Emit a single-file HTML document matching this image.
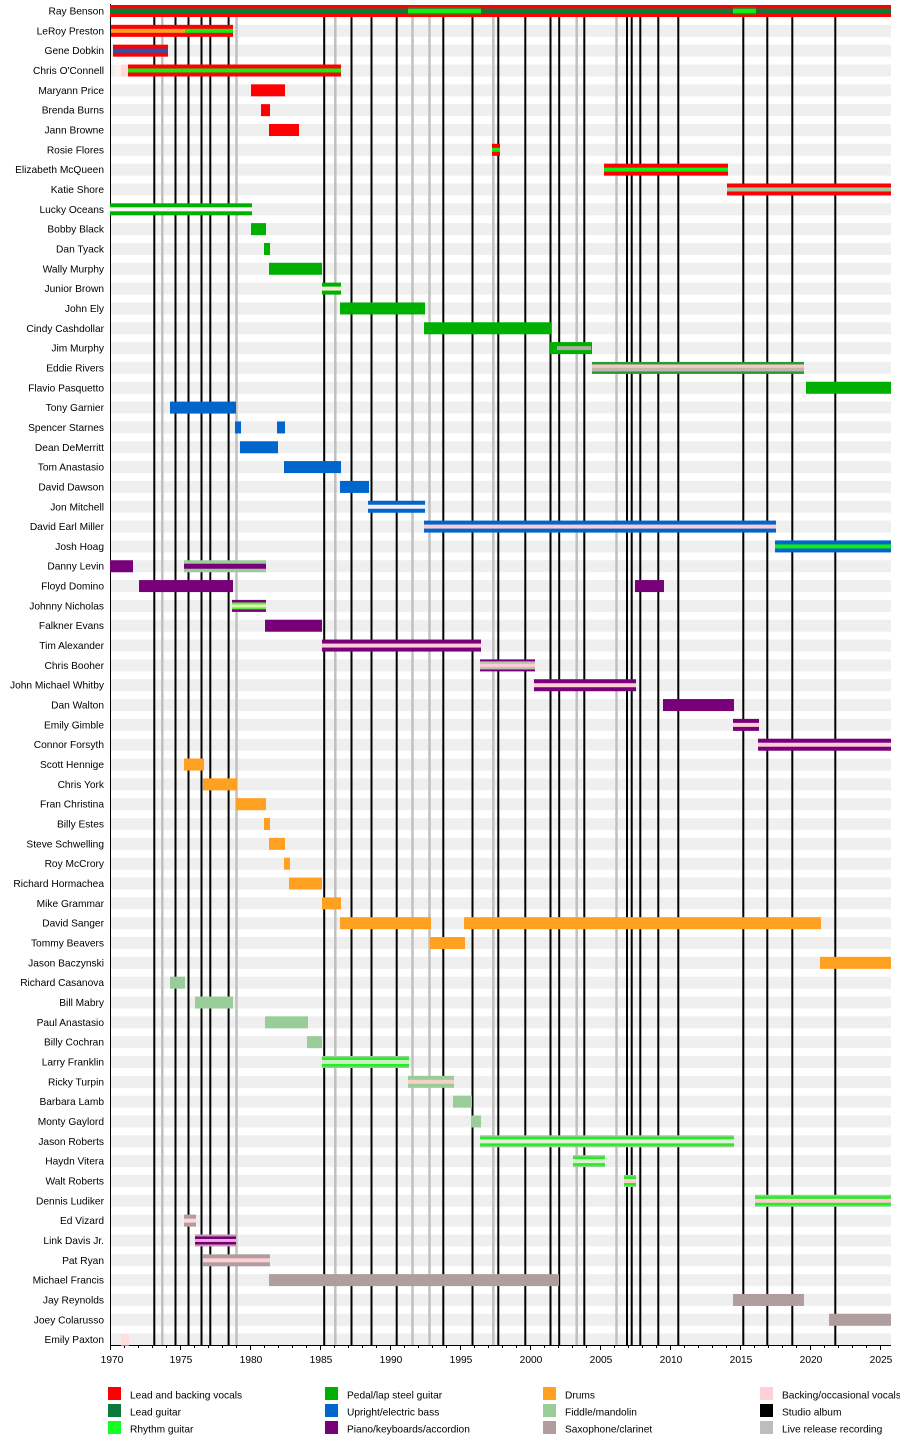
<!DOCTYPE html>
<html><head><meta charset="utf-8"><style>
html,body{margin:0;padding:0;background:#fff;}
svg{display:block;}
text{font-family:"Liberation Sans",Arial,sans-serif;font-size:10.2px;fill:#000;}
</style></head><body>
<svg width="900" height="1445" viewBox="0 0 900 1445" xmlns="http://www.w3.org/2000/svg">
<defs>
<pattern id="st" patternUnits="userSpaceOnUse" x="0" y="5" width="900" height="19.83">
<rect x="0" y="0" width="900" height="12" fill="#efefef"/>
</pattern>
</defs>
<rect x="0" y="0" width="900" height="1445" fill="#fff"/>
<rect x="110" y="5" width="781" height="1340.5" fill="url(#st)"/>

<!-- live release lines -->
<g stroke="#c0c0c0" stroke-width="2.5">
<line x1="162.3" y1="5" x2="162.3" y2="1345"/>
<line x1="236.5" y1="5" x2="236.5" y2="1345"/>
<line x1="335.3" y1="5" x2="335.3" y2="1345"/>
<line x1="412.5" y1="5" x2="412.5" y2="1345"/>
<line x1="429.5" y1="5" x2="429.5" y2="1345"/>
<line x1="493.3" y1="5" x2="493.3" y2="1345"/>
<line x1="576.7" y1="5" x2="576.7" y2="1345"/>
<line x1="616.5" y1="5" x2="616.5" y2="1345"/>
</g>
<!-- studio album lines -->
<g stroke="#000" stroke-width="2">
<line x1="154.3" y1="5" x2="154.3" y2="1345"/>
<line x1="175.5" y1="5" x2="175.5" y2="1345"/>
<line x1="188.5" y1="5" x2="188.5" y2="1345"/>
<line x1="201.5" y1="5" x2="201.5" y2="1345"/>
<line x1="210.3" y1="5" x2="210.3" y2="1345"/>
<line x1="228.6" y1="5" x2="228.6" y2="1345"/>
<line x1="324.2" y1="5" x2="324.2" y2="1345"/>
<line x1="351.5" y1="5" x2="351.5" y2="1345"/>
<line x1="371.5" y1="5" x2="371.5" y2="1345"/>
<line x1="396.7" y1="5" x2="396.7" y2="1345"/>
<line x1="443.3" y1="5" x2="443.3" y2="1345"/>
<line x1="472.5" y1="5" x2="472.5" y2="1345"/>
<line x1="498.3" y1="5" x2="498.3" y2="1345"/>
<line x1="525.3" y1="5" x2="525.3" y2="1345"/>
<line x1="550.5" y1="5" x2="550.5" y2="1345"/>
<line x1="559.2" y1="5" x2="559.2" y2="1345"/>
<line x1="584.3" y1="5" x2="584.3" y2="1345"/>
<line x1="627" y1="5" x2="627" y2="1345"/>
<line x1="631.7" y1="5" x2="631.7" y2="1345"/>
<line x1="640.3" y1="5" x2="640.3" y2="1345"/>
<line x1="658.3" y1="5" x2="658.3" y2="1345"/>
<line x1="678.3" y1="5" x2="678.3" y2="1345"/>
<line x1="743.3" y1="5" x2="743.3" y2="1345"/>
<line x1="767.3" y1="5" x2="767.3" y2="1345"/>
<line x1="792.3" y1="5" x2="792.3" y2="1345"/>
<line x1="835.3" y1="5" x2="835.3" y2="1345"/>
</g>

<!-- axes -->
<line x1="110.5" y1="4" x2="110.5" y2="1346" stroke="#000" stroke-width="1"/>
<line x1="110" y1="1345.5" x2="891" y2="1345.5" stroke="#000" stroke-width="1"/>
<g stroke="#000" stroke-width="1">
<path d="M124.5 1345v3M138.5 1345v3M152.5 1345v3M166.5 1345v3M194.5 1345v3M208.5 1345v3M222.5 1345v3M236.5 1345v3M264.5 1345v3M278.5 1345v3M292.5 1345v3M306.5 1345v3M334.5 1345v3M348.5 1345v3M362.5 1345v3M376.5 1345v3M404.5 1345v3M418.5 1345v3M432.5 1345v3M446.5 1345v3M474.5 1345v3M488.5 1345v3M502.5 1345v3M516.5 1345v3M544.5 1345v3M558.5 1345v3M572.5 1345v3M586.5 1345v3M614.5 1345v3M628.5 1345v3M642.5 1345v3M656.5 1345v3M684.5 1345v3M698.5 1345v3M712.5 1345v3M726.5 1345v3M754.5 1345v3M768.5 1345v3M782.5 1345v3M796.5 1345v3M824.5 1345v3M838.5 1345v3M852.5 1345v3M866.5 1345v3"/>
<path d="M110.5 1345v5M180.5 1345v5M250.5 1345v5M320.5 1345v5M390.5 1345v5M460.5 1345v5M530.5 1345v5M600.5 1345v5M670.5 1345v5M740.5 1345v5M810.5 1345v5M880.5 1345v5"/>
</g>
<g text-anchor="middle">
<text x="112" y="1363">1970</text>
<text x="181" y="1363">1975</text>
<text x="251" y="1363">1980</text>
<text x="321" y="1363">1985</text>
<text x="391" y="1363">1990</text>
<text x="461" y="1363">1995</text>
<text x="531" y="1363">2000</text>
<text x="601" y="1363">2005</text>
<text x="671" y="1363">2010</text>
<text x="741" y="1363">2015</text>
<text x="811" y="1363">2020</text>
<text x="881" y="1363">2025</text>
</g>

<!-- bars -->
<!-- 0 Ray Benson -->
<g transform="translate(0,11)">
<rect x="110" y="-6" width="781" height="12" fill="#ff0000"/>
<rect x="110" y="-2.5" width="781" height="5" fill="#0b7a36"/>
<rect x="408" y="-3.5" width="73" height="7" fill="#3d8a2e"/>
<rect x="408" y="-2" width="73" height="4" fill="#11ee11"/>
<rect x="733" y="-3.5" width="23" height="7" fill="#3d8a2e"/>
<rect x="733" y="-2" width="23" height="4" fill="#11ee11"/>
</g>
<!-- 1 LeRoy Preston -->
<g transform="translate(0,30.83)">
<rect x="111" y="-6" width="122" height="12" fill="#ff0000"/>
<rect x="111" y="-2" width="74" height="4" fill="#ffa020"/>
<rect x="185" y="-2" width="48" height="4" fill="#11ee11"/>
</g>
<!-- 2 Gene Dobkin -->
<g transform="translate(0,50.66)">
<rect x="113" y="-6" width="55" height="12" fill="#ff0000"/>
<rect x="113" y="-2" width="55" height="4" fill="#2255bb"/>
</g>
<!-- 3 Chris O'Connell -->
<g transform="translate(0,70.49)">
<rect x="114" y="-6" width="14" height="12" fill="#fff0f0"/>
<rect x="121" y="-6" width="7" height="12" fill="#ffdada"/>
<rect x="128" y="-6" width="213" height="12" fill="#ff0000"/>
<rect x="128" y="-2" width="213" height="4" fill="#11ee11"/>
</g>
<rect x="251" y="84.32" width="34" height="12" fill="#ff0000"/>
<rect x="261" y="104.15" width="9" height="12" fill="#ff0000"/>
<rect x="269" y="123.98" width="30" height="12" fill="#ff0000"/>
<!-- 7 Rosie Flores -->
<g transform="translate(0,149.81)">
<rect x="492" y="-6" width="8" height="12" fill="#ff0000"/>
<rect x="492" y="-2" width="8" height="4" fill="#11ee11"/>
</g>
<!-- 8 Elizabeth McQueen -->
<g transform="translate(0,169.64)">
<rect x="604" y="-6" width="124" height="12" fill="#ff0000"/>
<rect x="604" y="-2" width="124" height="4" fill="#11ee11"/>
</g>
<!-- 9 Katie Shore -->
<g transform="translate(0,189.47)">
<rect x="727" y="-6" width="164" height="12" fill="#ff0000"/>
<rect x="727" y="-2" width="164" height="4" fill="#a4c8a0"/>
</g>
<!-- 10 Lucky Oceans -->
<g transform="translate(0,209.3)">
<rect x="110" y="-6" width="142" height="12" fill="#00b000"/>
<rect x="110" y="-2" width="142" height="4" fill="#f6f6f6"/>
</g>
<rect x="251" y="223.13" width="15" height="12" fill="#00b000"/>
<rect x="264" y="242.96" width="6" height="12" fill="#00b000"/>
<rect x="269" y="262.79" width="53" height="12" fill="#00b000"/>
<!-- 14 Junior Brown -->
<g transform="translate(0,288.62)">
<rect x="322" y="-6" width="19" height="12" fill="#00b000"/>
<rect x="322" y="-2" width="19" height="4" fill="#f2ead6"/>
</g>
<rect x="340" y="302.45" width="85" height="12" fill="#00b000"/>
<rect x="424" y="322.28" width="127" height="12" fill="#00b000"/>
<!-- 17 Jim Murphy -->
<g transform="translate(0,348.11)">
<rect x="550" y="-6" width="42" height="12" fill="#00b000"/>
<rect x="557" y="-2" width="34" height="4" fill="#a8b0a0"/>
</g>
<!-- 18 Eddie Rivers -->
<g transform="translate(0,367.94)">
<rect x="592" y="-6" width="212" height="12" fill="#2a9a34"/>
<rect x="592" y="-3.5" width="212" height="3.5" fill="#f6c8cc"/>
<rect x="592" y="0" width="212" height="3.5" fill="#c4b4b0"/>
</g>
<rect x="806" y="381.77" width="85" height="12" fill="#00b000"/>
<!-- bass -->
<rect x="170" y="401.6" width="66" height="12" fill="#0066cc"/>
<rect x="235" y="421.43" width="6" height="12" fill="#0066cc"/>
<rect x="277" y="421.43" width="8" height="12" fill="#0066cc"/>
<rect x="240" y="441.26" width="38" height="12" fill="#0066cc"/>
<rect x="284" y="461.09" width="57" height="12" fill="#0066cc"/>
<rect x="340" y="480.92" width="29" height="12" fill="#0066cc"/>
<g transform="translate(0,506.75)">
<rect x="368" y="-6" width="57" height="12" fill="#0066cc"/>
<rect x="368" y="-2" width="57" height="4" fill="#f6eef4"/>
</g>
<g transform="translate(0,526.58)">
<rect x="424" y="-6" width="352" height="12" fill="#0066cc"/>
<rect x="424" y="-2" width="352" height="4" fill="#ffccd6"/>
</g>
<g transform="translate(0,546.41)">
<rect x="775" y="-6" width="116" height="12" fill="#0066cc"/>
<rect x="775" y="-2" width="116" height="4" fill="#11ee11"/>
</g>
<!-- piano -->
<g transform="translate(0,566.24)">
<rect x="110" y="-6" width="23" height="12" fill="#780078"/>
<rect x="184" y="-6" width="82" height="12" fill="#99cc99"/>
<rect x="184" y="-2.5" width="82" height="5" fill="#780078"/>
</g>
<rect x="139" y="580.07" width="94" height="12" fill="#780078"/>
<rect x="635" y="580.07" width="29" height="12" fill="#780078"/>
<g transform="translate(0,605.9)">
<rect x="232" y="-6" width="34" height="12" fill="#780078"/>
<rect x="232" y="-3.5" width="34" height="7" fill="#66e044"/>
<rect x="232" y="-1.5" width="34" height="3" fill="#d8ffa8"/>
</g>
<rect x="265" y="619.73" width="57" height="12" fill="#780078"/>
<g transform="translate(0,645.56)">
<rect x="322" y="-6" width="159" height="12" fill="#780078"/>
<rect x="322" y="-2" width="159" height="4" fill="#ffccd6"/>
</g>
<g transform="translate(0,665.39)">
<rect x="480" y="-6" width="55" height="12" fill="#780078"/>
<rect x="480" y="-4" width="55" height="8" fill="#b8c8b0"/>
<rect x="480" y="-1.5" width="55" height="3" fill="#ffccd6"/>
</g>
<g transform="translate(0,685.22)">
<rect x="534" y="-6" width="102" height="12" fill="#780078"/>
<rect x="534" y="-2" width="102" height="4" fill="#ffccd6"/>
</g>
<rect x="663" y="699.05" width="71" height="12" fill="#780078"/>
<g transform="translate(0,724.88)">
<rect x="733" y="-6" width="26" height="12" fill="#780078"/>
<rect x="733" y="-2" width="26" height="4" fill="#ffccd6"/>
</g>
<g transform="translate(0,744.71)">
<rect x="758" y="-6" width="133" height="12" fill="#780078"/>
<rect x="758" y="-2" width="133" height="4" fill="#ffccd6"/>
</g>
<!-- drums -->
<g fill="#ffa020">
<rect x="184" y="758.54" width="20" height="12"/>
<rect x="203" y="778.37" width="34" height="12"/>
<rect x="236" y="798.2" width="30" height="12"/>
<rect x="264" y="818.03" width="6" height="12"/>
<rect x="269" y="837.86" width="16" height="12"/>
<rect x="284" y="857.69" width="6" height="12"/>
<rect x="289" y="877.52" width="33" height="12"/>
<rect x="322" y="897.35" width="19" height="12"/>
<rect x="340" y="917.18" width="91" height="12"/>
<rect x="464" y="917.18" width="357" height="12"/>
<rect x="430" y="937.01" width="35" height="12"/>
<rect x="820" y="956.84" width="71" height="12"/>
</g>
<!-- fiddle -->
<g fill="#99cc99">
<rect x="170" y="976.67" width="15" height="12"/>
<rect x="195" y="996.5" width="38" height="12"/>
<rect x="265" y="1016.33" width="43" height="12"/>
<rect x="307" y="1036.16" width="15" height="12"/>
</g>
<g transform="translate(0,1061.99)">
<rect x="322" y="-6" width="87" height="12" fill="#99cc99"/>
<rect x="322" y="-4.5" width="87" height="9" fill="#22ee22"/>
<rect x="322" y="-2" width="87" height="4" fill="#c8f0c0"/>
</g>
<g transform="translate(0,1081.82)">
<rect x="408" y="-6" width="46" height="12" fill="#99cc99"/>
<rect x="408" y="-2" width="46" height="4" fill="#f8d0c8"/>
</g>
<rect x="453" y="1095.65" width="19" height="12" fill="#99cc99"/>
<rect x="471" y="1115.48" width="10" height="12" fill="#99cc99"/>
<g transform="translate(0,1141.31)">
<rect x="480" y="-6" width="254" height="12" fill="#99cc99"/>
<rect x="480" y="-4.5" width="254" height="9" fill="#22ee22"/>
<rect x="480" y="-2" width="254" height="4" fill="#e0f2d8"/>
</g>
<g transform="translate(0,1161.14)">
<rect x="573" y="-6" width="32" height="12" fill="#99cc99"/>
<rect x="573" y="-4.5" width="32" height="9" fill="#22ee22"/>
<rect x="573" y="-2" width="32" height="4" fill="#d8f2d0"/>
</g>
<g transform="translate(0,1180.97)">
<rect x="624" y="-6" width="12" height="12" fill="#99cc99"/>
<rect x="624" y="-4.5" width="12" height="9" fill="#22ee22"/>
<rect x="624" y="-2" width="12" height="4" fill="#ffccd0"/>
</g>
<g transform="translate(0,1200.8)">
<rect x="755" y="-6" width="136" height="12" fill="#99cc99"/>
<rect x="755" y="-4.5" width="136" height="9" fill="#22ee22"/>
<rect x="755" y="-2" width="136" height="4" fill="#ffccd0"/>
</g>
<!-- sax -->
<g transform="translate(0,1220.63)">
<rect x="184" y="-6" width="12" height="12" fill="#b09e9e"/>
<rect x="184" y="-2" width="12" height="4" fill="#ffd6da"/>
</g>
<g transform="translate(0,1240.46)">
<rect x="195" y="-6" width="41" height="12" fill="#c896b8"/>
<rect x="195" y="-4" width="41" height="8" fill="#700070"/>
<rect x="195" y="-1.5" width="41" height="3" fill="#f0a8e0"/>
</g>
<g transform="translate(0,1260.29)">
<rect x="203" y="-6" width="67" height="12" fill="#b09e9e"/>
<rect x="203" y="-2" width="67" height="4" fill="#ffd0d6"/>
</g>
<g fill="#b09e9e">
<rect x="269" y="1274.12" width="290" height="12"/>
<rect x="733" y="1293.95" width="71" height="12"/>
<rect x="829" y="1313.78" width="62" height="12"/>
</g>
<rect x="121" y="1333.61" width="8" height="12" fill="#ffdede"/>

<!-- names -->
<g text-anchor="end">
<text x="104" y="14.5">Ray Benson</text>
<text x="104" y="34.33">LeRoy Preston</text>
<text x="104" y="54.16">Gene Dobkin</text>
<text x="104" y="73.99">Chris O'Connell</text>
<text x="104" y="93.82">Maryann Price</text>
<text x="104" y="113.65">Brenda Burns</text>
<text x="104" y="133.48">Jann Browne</text>
<text x="104" y="153.31">Rosie Flores</text>
<text x="104" y="173.14">Elizabeth McQueen</text>
<text x="104" y="192.97">Katie Shore</text>
<text x="104" y="212.8">Lucky Oceans</text>
<text x="104" y="232.63">Bobby Black</text>
<text x="104" y="252.46">Dan Tyack</text>
<text x="104" y="272.29">Wally Murphy</text>
<text x="104" y="292.12">Junior Brown</text>
<text x="104" y="311.95">John Ely</text>
<text x="104" y="331.78">Cindy Cashdollar</text>
<text x="104" y="351.61">Jim Murphy</text>
<text x="104" y="371.44">Eddie Rivers</text>
<text x="104" y="391.27">Flavio Pasquetto</text>
<text x="104" y="411.1">Tony Garnier</text>
<text x="104" y="430.93">Spencer Starnes</text>
<text x="104" y="450.76">Dean DeMerritt</text>
<text x="104" y="470.59">Tom Anastasio</text>
<text x="104" y="490.42">David Dawson</text>
<text x="104" y="510.25">Jon Mitchell</text>
<text x="104" y="530.08">David Earl Miller</text>
<text x="104" y="549.91">Josh Hoag</text>
<text x="104" y="569.74">Danny Levin</text>
<text x="104" y="589.57">Floyd Domino</text>
<text x="104" y="609.4">Johnny Nicholas</text>
<text x="104" y="629.23">Falkner Evans</text>
<text x="104" y="649.06">Tim Alexander</text>
<text x="104" y="668.89">Chris Booher</text>
<text x="104" y="688.72">John Michael Whitby</text>
<text x="104" y="708.55">Dan Walton</text>
<text x="104" y="728.38">Emily Gimble</text>
<text x="104" y="748.21">Connor Forsyth</text>
<text x="104" y="768.04">Scott Hennige</text>
<text x="104" y="787.87">Chris York</text>
<text x="104" y="807.7">Fran Christina</text>
<text x="104" y="827.53">Billy Estes</text>
<text x="104" y="847.36">Steve Schwelling</text>
<text x="104" y="867.19">Roy McCrory</text>
<text x="104" y="887.02">Richard Hormachea</text>
<text x="104" y="906.85">Mike Grammar</text>
<text x="104" y="926.68">David Sanger</text>
<text x="104" y="946.51">Tommy Beavers</text>
<text x="104" y="966.34">Jason Baczynski</text>
<text x="104" y="986.17">Richard Casanova</text>
<text x="104" y="1006">Bill Mabry</text>
<text x="104" y="1025.83">Paul Anastasio</text>
<text x="104" y="1045.66">Billy Cochran</text>
<text x="104" y="1065.49">Larry Franklin</text>
<text x="104" y="1085.32">Ricky Turpin</text>
<text x="104" y="1105.15">Barbara Lamb</text>
<text x="104" y="1124.98">Monty Gaylord</text>
<text x="104" y="1144.81">Jason Roberts</text>
<text x="104" y="1164.64">Haydn Vitera</text>
<text x="104" y="1184.47">Walt Roberts</text>
<text x="104" y="1204.3">Dennis Ludiker</text>
<text x="104" y="1224.13">Ed Vizard</text>
<text x="104" y="1243.96">Link Davis Jr.</text>
<text x="104" y="1263.79">Pat Ryan</text>
<text x="104" y="1283.62">Michael Francis</text>
<text x="104" y="1303.45">Jay Reynolds</text>
<text x="104" y="1323.28">Joey Colarusso</text>
<text x="104" y="1343.11">Emily Paxton</text>
</g>

<!-- legend -->
<rect x="108" y="1387" width="13" height="13" fill="#ff0000"/>
<rect x="108" y="1404" width="13" height="13" fill="#0b7a3a"/>
<rect x="108" y="1421" width="13" height="13" fill="#11ff22"/>
<text x="130" y="1398.5">Lead and backing vocals</text>
<text x="130" y="1415.5">Lead guitar</text>
<text x="130" y="1432.5">Rhythm guitar</text>
<rect x="325" y="1387" width="13" height="13" fill="#00b000"/>
<rect x="325" y="1404" width="13" height="13" fill="#0066cc"/>
<rect x="325" y="1421" width="13" height="13" fill="#780078"/>
<text x="347" y="1398.5">Pedal/lap steel guitar</text>
<text x="347" y="1415.5">Upright/electric bass</text>
<text x="347" y="1432.5">Piano/keyboards/accordion</text>
<rect x="543" y="1387" width="13" height="13" fill="#ffa020"/>
<rect x="543" y="1404" width="13" height="13" fill="#99cc99"/>
<rect x="543" y="1421" width="13" height="13" fill="#b09e9e"/>
<text x="565" y="1398.5">Drums</text>
<text x="565" y="1415.5">Fiddle/mandolin</text>
<text x="565" y="1432.5">Saxophone/clarinet</text>
<rect x="760" y="1387" width="13" height="13" fill="#ffd0d8"/>
<rect x="760" y="1404" width="13" height="13" fill="#000"/>
<rect x="760" y="1421" width="13" height="13" fill="#bdbdbd"/>
<text x="782" y="1398.5">Backing/occasional vocals</text>
<text x="782" y="1415.5">Studio album</text>
<text x="782" y="1432.5">Live release recording</text>
</svg>
</body></html>
